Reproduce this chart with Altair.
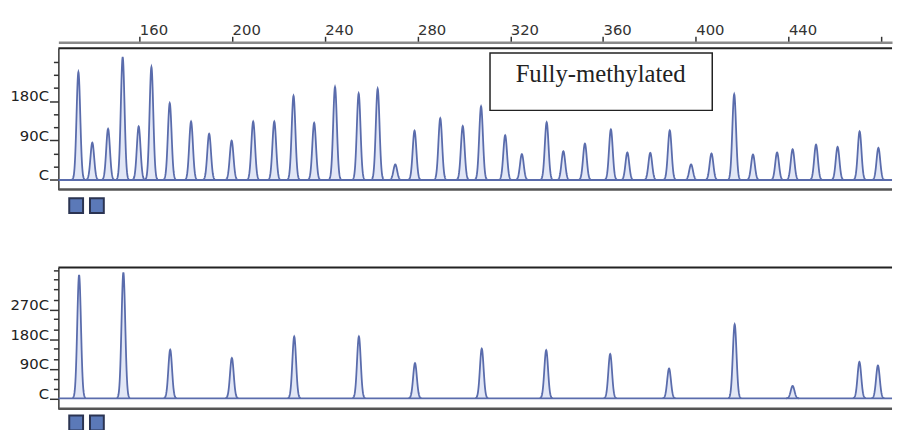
import altair as alt
import pandas as pd

# ---------------- data ----------------
# Upper trace ("Fully-methylated"): peak positions (size units) and heights (RFU)
top_pos = [133.7, 139.7, 146.5, 152.8, 159.7, 165.2, 173.1, 182.3, 190.1, 199.8,
           209.1, 218.2, 226.5, 235.4, 244.4, 254.6, 262.8, 270.4, 278.7, 289.8,
           299.5, 307.4, 317.8, 325.0, 335.7, 342.9, 352.2, 363.4, 370.5, 380.4,
           388.8, 398.0, 406.8, 416.6, 424.7, 435.1, 441.8, 451.9, 461.2, 470.7, 478.8]
top_height = [2457, 850, 1166, 2801, 1220, 2576, 1751, 1332, 1053, 896,
              1332, 1332, 1917, 1301, 2120, 1969, 2081, 356, 1121, 1406,
              1226, 1676, 1017, 590, 1316, 657, 828, 1152, 626, 619,
              1130, 356, 603, 1953, 581, 626, 702, 806, 754, 1107, 731]

# Lower trace
bottom_pos = [134.0, 153.1, 173.3, 199.9, 226.8, 254.7, 278.9, 307.7, 335.5,
              363.1, 388.5, 416.8, 441.8, 470.6, 478.6]
bottom_height = [3744, 3825, 1476, 1224, 1875, 1875, 1065, 1506, 1464,
                 1344, 906, 2244, 375, 1104, 996]

# Axis ticks / labels
x_tick_values = [160, 200, 240, 280, 320, 360, 400, 440, 480]
x_tick_labels = ["160", "200", "240", "280", "320", "360", "400", "440", ""]
top_y_ticks = [0, 300, 600, 900, 1200, 1500, 1800, 2100, 2400, 2700]
top_y_major = [0, 900, 1800]
top_y_labels = ["C", "90C", "180C"]
bottom_y_ticks = [0, 300, 600, 900, 1200, 1500, 1800, 2100, 2400, 2700, 3000, 3300, 3600, 3900]
bottom_y_major = [0, 900, 1800, 2700]
bottom_y_labels = ["C", "90C", "180C", "270C"]

box_label = "Fully-methylated"

# ---------------- styling ----------------
X_DOMAIN = [125.06, 484.68]
TOP_Y_DOMAIN = [-214, 3004]
BOTTOM_Y_DOMAIN = [-315, 3975]
W, H = 844, 143
SIG = 0.8
LINE = "#5a6cac"
FILL = "#9eb0e2"


def label_expr(values, labels):
    parts = [f"datum.value == {v} ? '{l}'" for v, l in zip(values, labels)]
    return " : ".join(parts) + " : ''"


def panel(pos, heights, ydom, yticks, ymajor, ylabels, show_x, square_y, extra=None):
    df = pd.DataFrame({"pos": pos, "height": heights, "peak": list(range(len(pos)))})
    xaxis = None
    if show_x:
        xaxis = alt.Axis(orient="top", values=x_tick_values, tickCount=100,
                         labelExpr=label_expr(x_tick_values, x_tick_labels),
                         offset=6, tickSize=6, tickWidth=1.5, tickColor="#333",
                         domainColor="#8a8a8a", domainWidth=2.5,
                         labelAlign="left", labelBaseline="alphabetic", labelPadding=2,
                         labelFont="DejaVu Sans", labelFontSize=15, labelColor="#333",
                         labelOverlap=False, labelFlush=False, grid=False, title=None,
                         minExtent=31)
    major_test = " || ".join(f"datum.value == {v}" for v in ymajor)
    yaxis = alt.Axis(values=yticks, tickCount=100, labelExpr=label_expr(ymajor, ylabels),
                     tickSize={"condition": {"test": major_test, "value": 9}, "value": 5},
                     tickWidth=1.5, tickColor="#333", domainColor="#333", domainWidth=1.5,
                     labelBaseline="alphabetic", labelPadding=1,
                     labelFont="DejaVu Sans", labelFontSize=15, labelColor="#222",
                     labelOverlap=False, labelFlush=False, grid=False, title=None,
                     minExtent=50)
    base = alt.Chart(df).transform_calculate(
        off="sequence(-2.8, 2.81, 0.1)"
    ).transform_flatten(["off"]).transform_calculate(
        x="datum.pos + datum.off",
        y=f"datum.height * exp(-datum.off * datum.off / {2 * SIG * SIG})",
    ).encode(
        x=alt.X("x:Q", scale=alt.Scale(domain=X_DOMAIN, nice=False, zero=False), axis=xaxis),
        y=alt.Y("y:Q", scale=alt.Scale(domain=ydom, nice=False, zero=False), axis=yaxis),
        detail="peak:N",
    )
    area = base.mark_area(color=FILL, opacity=0.3)
    line = base.mark_line(color=LINE, strokeWidth=1.8)

    deco = alt.Chart(pd.DataFrame({"a": [0]}))
    baseline = deco.mark_rule(color=LINE, strokeWidth=1.8).encode(
        x=alt.value(0), x2=alt.value(W), y=alt.YDatum(datum=0))
    top_border = deco.mark_rule(color="#222", strokeWidth=2).encode(
        x=alt.value(0), x2=alt.value(W), y=alt.value(0))
    bottom_border = deco.mark_rule(color="#555", strokeWidth=2.5).encode(
        x=alt.value(0), x2=alt.value(W), y=alt.value(H))
    sq1 = deco.mark_rect(fill="#5b79b8", stroke="#2b3452", strokeWidth=2).encode(
        x=alt.value(11), x2=alt.value(25), y=alt.value(square_y), y2=alt.value(square_y + 15))
    sq2 = deco.mark_rect(fill="#5b79b8", stroke="#2b3452", strokeWidth=2).encode(
        x=alt.value(32), x2=alt.value(46), y=alt.value(square_y), y2=alt.value(square_y + 15))
    layers = [area, line, baseline, top_border, bottom_border, sq1, sq2]
    if extra is not None:
        layers += extra
    return alt.layer(*layers).properties(width=W, height=H)


box = alt.Chart(pd.DataFrame({"a": [0]})).mark_rect(
    fill="white", stroke="#222", strokeWidth=1.5).encode(
    x=alt.value(437), x2=alt.value(662), y=alt.value(5), y2=alt.value(63))
box_text = alt.Chart(pd.DataFrame({"a": [0]})).mark_text(
    font="Liberation Serif", fontSize=25, color="#222", align="center",
    baseline="alphabetic").encode(
    x=alt.value(549), y=alt.value(34), text=alt.value(box_label))

top = panel(top_pos, top_height, TOP_Y_DOMAIN, top_y_ticks, top_y_major, top_y_labels,
            True, 152, extra=[box, box_text])
bottom = panel(bottom_pos, bottom_height, BOTTOM_Y_DOMAIN, bottom_y_ticks, bottom_y_major,
               bottom_y_labels, False, 150)

chart = alt.vconcat(top, bottom, spacing=43).properties(
    padding=0, background="white"
).configure_view(stroke="transparent")

chart.save("out.html", embed_options={"renderer": "svg", "actions": False})
